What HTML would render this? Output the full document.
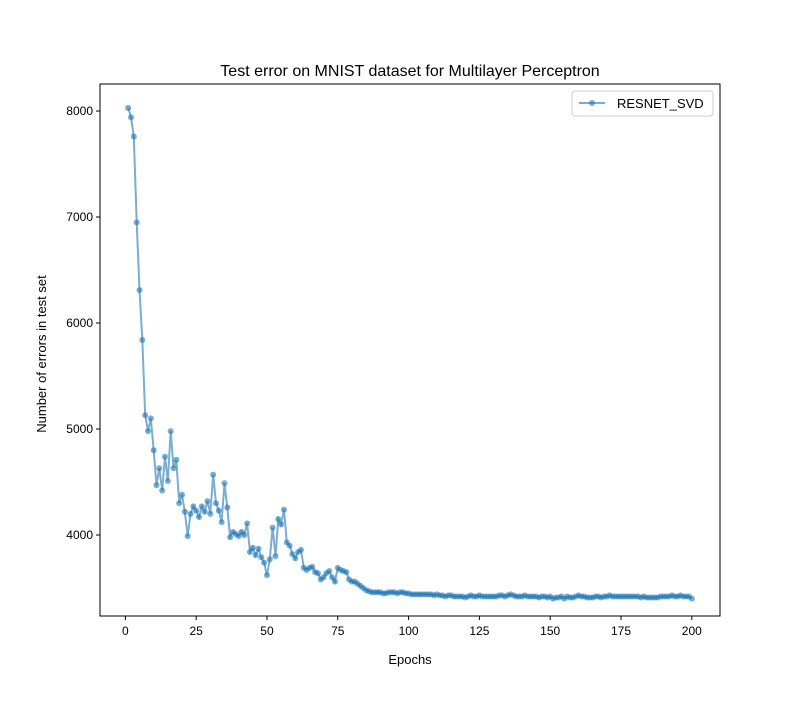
<!DOCTYPE html>
<html><head><meta charset="utf-8"><style>
body{margin:0;background:#fff}
text{font-family:"Liberation Sans","DejaVu Sans",sans-serif;fill:#000}
</style></head><body>
<svg id="chart" width="800" height="700" xmlns="http://www.w3.org/2000/svg">
<rect width="800" height="700" fill="#fff"/>
<text x="410" y="76" font-size="16" text-anchor="middle">Test error on MNIST dataset for Multilayer Perceptron</text>
<text x="410" y="664" font-size="13" text-anchor="middle">Epochs</text>
<text transform="translate(46,354) rotate(-90)" font-size="13" text-anchor="middle">Number of errors in test set</text>
<g id="xt"></g><g id="yt"></g>
<g id="series"></g>
<rect x="100" y="84" width="620" height="532" fill="none" stroke="#000" stroke-width="1"/>
<g>
<rect x="572" y="91" width="141" height="25" rx="3" fill="#fff" stroke="#ccc"/>
<line x1="579" y1="103" x2="605" y2="103" stroke="#1f77b4" stroke-opacity="0.6" stroke-width="2"/>
<circle cx="592" cy="103" r="3" fill="#1f77b4" fill-opacity="0.6"/>
<text x="617" y="108" font-size="13">RESNET_SVD</text>
</g>
</svg>
<script>
const epochs = Array.from({length:200},(_, i)=>i+1);
const errors = [
8030,7940,7760,6950,6310,5840,5130,4980,5100,4800,4470,4630,4420,4740,4510,4980,4630,4710,4300,4380,
4220,3990,4200,4270,4230,4170,4270,4220,4320,4200,4570,4300,4230,4120,4490,4260,3980,4030,4010,3990,
4030,4000,4110,3840,3880,3810,3870,3790,3740,3620,3770,4070,3800,4150,4100,4240,3930,3900,3820,3780,
3840,3860,3690,3670,3690,3700,3650,3640,3580,3600,3640,3660,3600,3560,3690,3670,3660,3650,3580,3560,
3560,3540,3520,3500,3480,3470,3460,3460,3460,3460,3450,3450,3460,3460,3460,3450,3460,3460,3450,3450,
3440,3440,3440,3440,3440,3440,3440,3440,3430,3440,3430,3430,3420,3430,3430,3420,3420,3420,3420,3410,
3420,3430,3420,3420,3430,3420,3420,3420,3420,3420,3420,3430,3430,3420,3430,3440,3430,3420,3420,3420,
3430,3420,3420,3420,3420,3410,3420,3420,3410,3420,3400,3410,3410,3420,3400,3420,3410,3410,3420,3430,
3420,3420,3410,3410,3410,3420,3420,3410,3420,3420,3430,3420,3420,3420,3420,3420,3420,3420,3420,3420,
3420,3410,3420,3410,3410,3410,3410,3410,3420,3420,3420,3420,3430,3420,3420,3430,3420,3420,3420,3400];
const xTicks = [0,25,50,75,100,125,150,175,200];
const yTicks = [4000,5000,6000,7000,8000];
const X0=100,X1=720,Y0=616,Y1=84;
const xMin=-8.95,xMax=209.95,yMin=3236,yMax=8255;
const xs=v=>X0+(v-xMin)/(xMax-xMin)*(X1-X0);
const ys=v=>Y0-(v-yMin)/(yMax-yMin)*(Y0-Y1);
const NS="http://www.w3.org/2000/svg";
function mk(t,a,p){const e=document.createElementNS(NS,t);for(const k in a)e.setAttribute(k,a[k]);p.appendChild(e);return e;}
const xt=document.getElementById('xt'),yt=document.getElementById('yt'),sg=document.getElementById('series');
xTicks.forEach(v=>{const x=xs(v);
const l=mk('line',{x1:x,x2:x,y1:Y0,y2:Y0+4,stroke:'#000'},xt);


const t=mk('text',{x:x,y:Y0+19,'font-size':12,'text-anchor':'middle'},xt);t.textContent=v;

});
yTicks.forEach(v=>{const y=ys(v);
const l=mk('line',{x1:X0-4,x2:X0,y1:y,y2:y,stroke:'#000'},yt);


const t=mk('text',{x:X0-7,y:y+4,'font-size':12,'text-anchor':'end'},yt);t.textContent=v;

});
const pts=epochs.map((e,i)=>xs(e).toFixed(1)+','+ys(errors[i]).toFixed(1)).join(' ');
const pl=mk('polyline',{points:pts,fill:'none',stroke:'#1f77b4','stroke-opacity':0.6,'stroke-width':2},sg);


epochs.forEach((e,i)=>{const c=mk('circle',{cx:xs(e),cy:ys(errors[i]),r:3,fill:'#1f77b4','fill-opacity':0.6},sg);

});
</script>
</body></html>
